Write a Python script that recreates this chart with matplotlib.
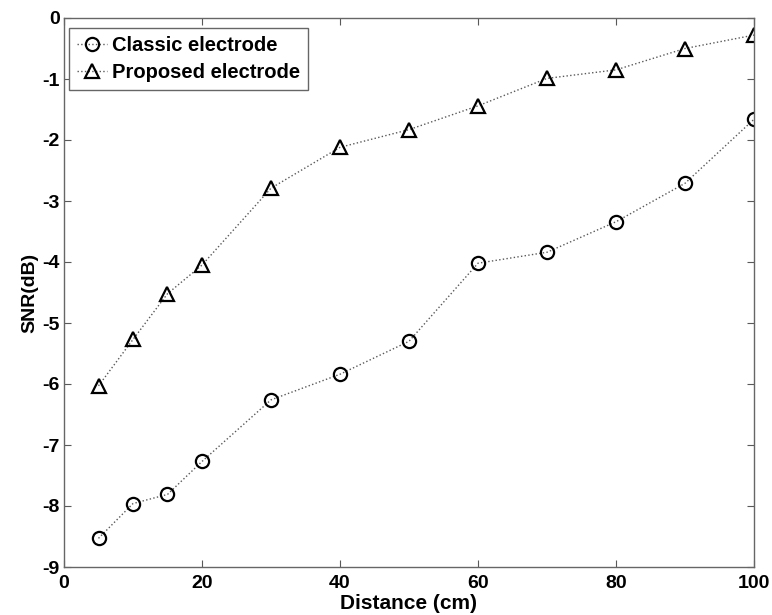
import matplotlib
matplotlib.use("Agg")
import matplotlib.pyplot as plt

distance = [5, 10, 15, 20, 30, 40, 50, 60, 70, 80, 90, 100]
classic = [-8.53, -7.96, -7.81, -7.27, -6.26, -5.84, -5.30, -4.02, -3.84, -3.34, -2.71, -1.66]
proposed = [-6.03, -5.27, -4.52, -4.05, -2.79, -2.12, -1.83, -1.44, -0.99, -0.85, -0.50, -0.28]
xticks = [0, 20, 40, 60, 80, 100]
yticks = [-9, -8, -7, -6, -5, -4, -3, -2, -1, 0]

plt.rcParams['font.family'] = ['Liberation Sans', 'DejaVu Sans']
plt.rcParams['font.weight'] = 'bold'

fig = plt.figure(figsize=(7.72, 6.15), dpi=100)
W, H = 772, 615
left, right, top, bottom = 64, 754, 18, 567
ax = fig.add_axes([left / W, 1 - bottom / H, (right - left) / W, (bottom - top) / H])

ax.plot(distance, classic, linestyle=':', color='0.35', lw=1.0, marker='o', markersize=9.5,
        markerfacecolor='none', markeredgecolor='black', markeredgewidth=1.6, label='Classic electrode')
ax.plot(distance, proposed, linestyle=':', color='0.35', lw=1.0, marker='^', markersize=10.5,
        markerfacecolor='none', markeredgecolor='black', markeredgewidth=1.6, label='Proposed electrode')

ax.set_xlim(0, 100)
ax.set_ylim(-9, 0)
ax.set_xticks(xticks)
ax.set_yticks(yticks)
ax.set_xticklabels([str(v) for v in xticks], fontsize=14, fontweight='bold')
ax.set_yticklabels([str(v) for v in yticks], fontsize=14, fontweight='bold')
ax.tick_params(direction='in', length=5, width=0.8, color='0.35', top=True, right=True)
ax.tick_params(axis='x', pad=6)
ax.tick_params(axis='y', pad=3)
for s in ax.spines.values():
    s.set_color('0.4')
    s.set_linewidth(1.0)

ax.set_xlabel('Distance (cm)', fontsize=15, fontweight='bold', labelpad=1)
ax.set_ylabel('SNR(dB)', fontsize=14, fontweight='bold', labelpad=3)

leg = ax.legend(loc='upper left', bbox_to_anchor=(0.007, 0.982), borderaxespad=0,
                fontsize=14.5, handlelength=1.5, handletextpad=0.25, borderpad=0.4,
                labelspacing=0.4, fancybox=False, framealpha=1, edgecolor='0.4')
leg.get_frame().set_linewidth(1.0)
for t in leg.get_texts():
    t.set_fontweight('bold')

fig.savefig('out.png', dpi=100)
